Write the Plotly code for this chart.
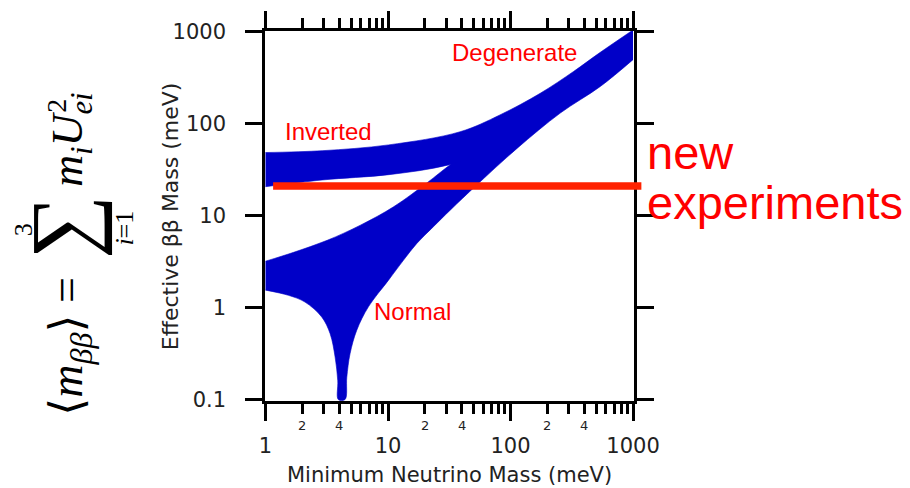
import math
import plotly.graph_objects as go

# Inverted hierarchy band: upper and lower edges (meV)
inv_hi_x = [1, 2.9, 10.1, 38.8, 82, 175, 327, 541, 1000]
inv_hi_y = [48.7, 51, 59, 82, 125, 215, 371, 600, 1050]
inv_lo_x = [1, 2.9, 10.2, 31.2, 100, 300, 1000]
inv_lo_y = [20.7, 24.5, 28, 35.7, 60, 160, 520]

# Normal hierarchy band: upper and lower edges (meV)
nor_hi_x = [1, 1.7, 3.19, 5.96, 11.1, 21, 32, 100, 300, 1000]
nor_hi_y = [3.2, 4.0, 5.4, 7.9, 12.5, 23, 35.7, 105, 310, 960]
nor_lo_x = [1, 1.54, 2.1, 2.88, 3.37, 3.7, 3.89, 3.93, 4.46, 4.61, 4.9, 5.56,
            6.92, 10.1, 13.4, 17.2, 23.5, 32.2, 53, 113, 255, 541, 1000]
nor_lo_y = [1.55, 1.36, 1.15, 0.79, 0.52, 0.29, 0.16, 0.1, 0.1, 0.175, 0.315, 0.568,
            1.02, 1.99, 3.29, 5.0, 7.6, 11.5, 21.6, 54, 131, 255, 499]

# Sensitivity of the next generation of experiments (meV)
new_limit = 21

# Region labels and where they sit (meV)
region_names = ["Degenerate", "Inverted", "Normal"]
region_x = [107, 3.24, 15.9]
region_y = [594, 81.8, 0.914]

# Axis ticks
x_major = [1, 10, 100, 1000]
x_major_text = ["1", "10", "100", "1000"]
x_minor = [m * d for d in (1, 10, 100) for m in range(2, 10)]
x_minor_labelled = [2, 4, 20, 40, 200, 400]
x_minor_text = ["2", "4", "2", "4", "2", "4"]
y_major = [0.1, 1, 10, 100, 1000]
y_major_text = ["0.1", "1", "10", "100", "1000"]

BAND = "#0000C8"
RED = "#FF0000"
INK = "#222222"
AXIS_FONT = "DejaVu Sans, sans-serif"
LABEL_FONT = "Liberation Sans, Arial, sans-serif"
MATH_FONT = "Liberation Serif, DejaVu Serif, serif"

fig = go.Figure()


def add_band(xs_hi, ys_hi, xs_lo, ys_lo):
    # lower edge first, then the upper edge filled down to it
    fig.add_trace(go.Scatter(x=xs_lo, y=ys_lo, mode="lines", line_shape="spline",
                             line=dict(color=BAND, width=0.6), hoverinfo="skip",
                             showlegend=False))
    fig.add_trace(go.Scatter(x=xs_hi, y=ys_hi, mode="lines", line_shape="spline",
                             fill="tonexty", fillcolor=BAND,
                             line=dict(color=BAND, width=0.6), hoverinfo="skip",
                             showlegend=False))


add_band(nor_hi_x, nor_hi_y, nor_lo_x, nor_lo_y)
add_band(inv_hi_x, inv_hi_y, inv_lo_x, inv_lo_y)

# horizontal sensitivity bar, running past the right frame
fig.add_shape(type="line", xref="paper", yref="y", x0=0.022, x1=1.02,
              y0=new_limit, y1=new_limit, line=dict(color="#FF2200", width=7.5))

ann = []
for txt, xv, yv in zip(region_names, region_x, region_y):
    ann.append(dict(text=txt, x=math.log10(xv), y=math.log10(yv), xref="x", yref="y",
                    showarrow=False, xanchor="center", yanchor="middle",
                    font=dict(family=LABEL_FONT, size=24, color=RED)))
ann.append(dict(text="new", x=1.03, y=0.672, xref="paper", yref="paper", showarrow=False,
                xanchor="left", yanchor="middle", font=dict(family=LABEL_FONT, size=47, color=RED)))
ann.append(dict(text="experiments", x=1.03, y=0.537, xref="paper", yref="paper", showarrow=False,
                xanchor="left", yanchor="middle", font=dict(family=LABEL_FONT, size=47, color=RED)))

# small labels on selected minor ticks
for v, t in zip(x_minor_labelled, x_minor_text):
    ann.append(dict(text=t, x=math.log10(v), y=-0.065, xref="x", yref="paper",
                    showarrow=False, xanchor="center", yanchor="middle",
                    font=dict(family=AXIS_FONT, size=13, color=INK)))

# axis titles
ann.append(dict(text="Minimum Neutrino Mass (meV)", x=0.5, y=-0.2, xref="paper", yref="paper",
                showarrow=False, xanchor="center", yanchor="middle",
                font=dict(family=AXIS_FONT, size=21, color=INK)))
ann.append(dict(text="Effective ββ Mass (meV)", x=-0.257, y=0.5, xref="paper", yref="paper",
                showarrow=False, xanchor="center", yanchor="middle", textangle=-90,
                font=dict(family=AXIS_FONT, size=22, color=INK)))


# effective Majorana mass formula, written bottom to top
def add_math(txt, x, y, size, family=MATH_FONT):
    ann.append(dict(text=txt, x=x, y=y, xref="paper", yref="paper", showarrow=False,
                    xanchor="center", yanchor="middle", textangle=-90,
                    font=dict(family=family, size=size, color="black")))


add_math("⟨<i>m</i><sub><i>ββ</i></sub>⟩ =", -0.527, 0.148, 46)
add_math("∑", -0.548, 0.470, 90)
add_math("3", -0.655, 0.462, 26)
add_math("<i>i</i>=1", -0.380, 0.468, 26)
add_math("<i>m</i><sub><i>i</i></sub><i>U</i><sub><i>ei</i></sub>", -0.527, 0.705, 44)
add_math("2", -0.565, 0.797, 28)

axis_common = dict(type="log", showline=True, linewidth=2.5, linecolor="black",
                   mirror="allticks", ticks="outside", ticklen=17, tickwidth=2.5,
                   tickcolor="black", showgrid=False, zeroline=False,
                   tickfont=dict(family=AXIS_FONT, size=21, color=INK))

fig.update_layout(
    width=910, height=488,
    margin=dict(l=265, r=276, t=31, b=87),
    paper_bgcolor="white", plot_bgcolor="white",
    xaxis=dict(range=[-0.004, 3.008], tickmode="array", tickvals=x_major, ticktext=x_major_text,
               ticklabelstandoff=7,
               minor=dict(tickmode="array", tickvals=x_minor, ticks="outside", ticklen=10,
                          tickwidth=2.5, tickcolor="black", showgrid=False),
               **axis_common),
    yaxis=dict(range=[-1.016, 3.01], tickmode="array", tickvals=y_major, ticktext=y_major_text,
               ticklabelstandoff=15, **axis_common),
    annotations=ann,
    showlegend=False,
)

fig.write_html("out.html")
